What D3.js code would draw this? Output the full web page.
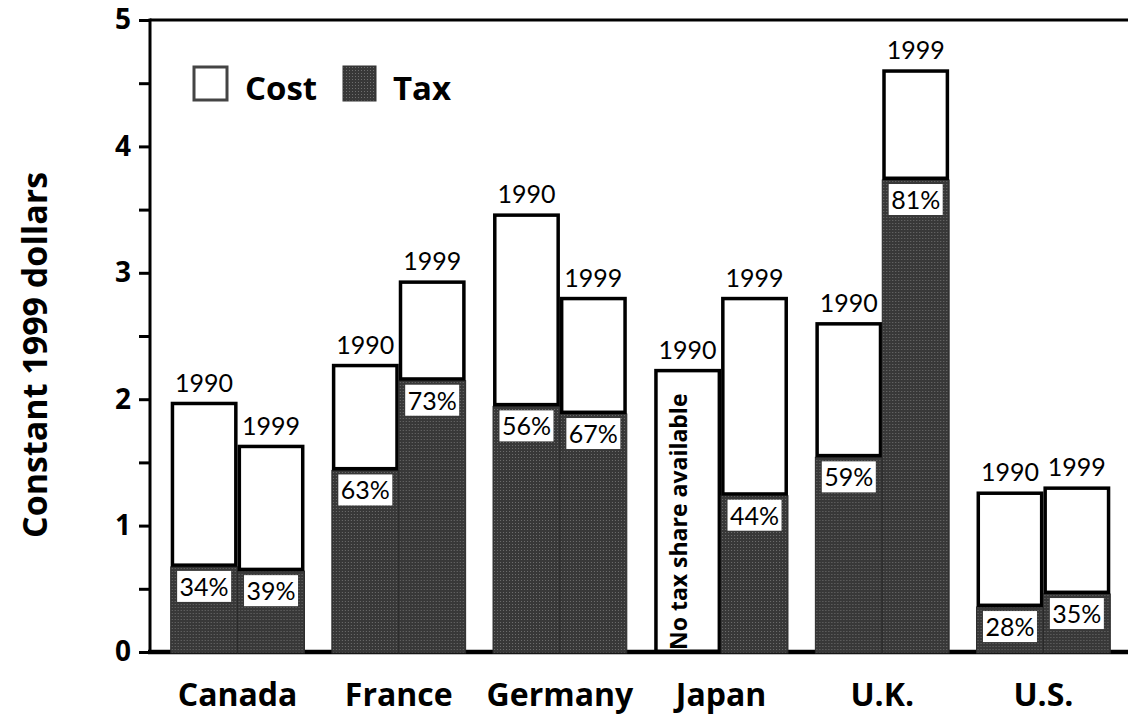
<!DOCTYPE html>
<html><head><meta charset="utf-8">
<script src="https://cdn.jsdelivr.net/npm/d3@7"></script>
<style>
html,body{margin:0;padding:0;background:#fff;}
svg{display:block;font-family:"Lato","Open Sans",sans-serif;}
.b{font-family:"Open Sans","Lato",sans-serif;font-weight:bold;}
</style></head>
<body>
<svg id="chart" width="1128" height="714"></svg>
<script>
const categories = ["Canada","France","Germany","Japan","U.K.","U.S."];
const years = ["1990","1999"];
const cost1990 = [1.98, 2.28, 3.47, 2.24, 2.61, 1.27];
const cost1999 = [1.64, 2.94, 2.81, 2.81, 4.61, 1.31];
const taxShare1990 = [34, 63, 56, null, 59, 28];
const taxShare1999 = [39, 73, 67, 44, 81, 35];
const yTicks = [0,1,2,3,4,5];
const yMinorTicks = [0.5,1.5,2.5,3.5,4.5];
const yTitle = "Constant 1999 dollars";
const noTaxText = "No tax share available";

const rows = [];
categories.forEach((c,i)=>{
  rows.push({cat:c, year:"1990", cost:cost1990[i], share:taxShare1990[i]});
  rows.push({cat:c, year:"1999", cost:cost1999[i], share:taxShare1999[i]});
});

const svg = d3.select("#chart");
const x0 = d3.scaleBand().domain(categories).range([157,1124]).paddingInner(0.17).paddingOuter(0.085);
const x1 = d3.scaleBand().domain(years).range([0,x0.bandwidth()]);
const y = d3.scaleLinear().domain([0,5]).range([652,20]);

const defs = svg.append("defs");
const pat = defs.append("pattern").attr("id","dots").attr("patternUnits","userSpaceOnUse")
  .attr("width",3).attr("height",3);
pat.append("rect").attr("width",3).attr("height",3).attr("fill","#383838");
pat.append("rect").attr("x",1).attr("y",1).attr("width",1).attr("height",1).attr("fill","#6e6e6e");

// frame top line
svg.append("line").attr("x1",150).attr("x2",1128).attr("y1",y(5)).attr("y2",y(5))
  .attr("stroke","#000").attr("stroke-width",3);
// bottom axis line
svg.append("line").attr("x1",148).attr("x2",1128).attr("y1",y(0)).attr("y2",y(0))
  .attr("stroke","#000").attr("stroke-width",4.5);

// y axis
const yAxis = d3.axisLeft(y).tickValues(yTicks).tickSize(11).tickPadding(8).tickFormat(d3.format("d"));
const gy = svg.append("g").attr("transform","translate(150,0)").call(yAxis);
gy.select(".domain").attr("stroke-width",3).attr("d",`M0,${y(5)-1.5}V${y(0)}`);
gy.selectAll(".tick line").attr("stroke-width",3);
gy.selectAll(".tick text").attr("class","b").attr("font-size",28).attr("fill","#000");
const minor = d3.axisLeft(y).tickValues(yMinorTicks).tickSize(11).tickFormat("");
const gm = svg.append("g").attr("transform","translate(150,0)").call(minor);
gm.select(".domain").remove();
gm.selectAll(".tick line").attr("stroke-width",3);

// y title
svg.append("text").attr("class","b").attr("transform",`translate(47,${y(2.35)}) rotate(-90)`)
  .attr("text-anchor","middle").attr("font-size",34).text(yTitle);

// bars
const g = svg.append("g");
const bars = g.selectAll("g.bar").data(rows).join("g").attr("class","bar")
  .attr("transform",d=>`translate(${x0(d.cat)+x1(d.year)},0)`);
const bw = x1.bandwidth();

// tax part
bars.filter(d=>d.share!=null).append("rect")
  .attr("x",0).attr("width",bw)
  .attr("y",d=>y(d.cost*d.share/100)).attr("height",d=>y(0)-y(d.cost*d.share/100)+1)
  .attr("fill","url(#dots)").attr("stroke","#2a2a2a").attr("stroke-width",1);

// cost part
bars.append("rect")
  .attr("x",1.75).attr("width",bw-3.5)
  .attr("y",d=>y(d.cost)+1.75)
  .attr("height",d=>{const b = d.share==null?0:d.cost*d.share/100; return y(b)-y(d.cost)-3.5+(d.share==null?1:0);})
  .attr("fill","#fff").attr("stroke","#000").attr("stroke-width",3.5);

// year labels
bars.append("text").attr("x",bw/2).attr("y",d=>y(d.cost)-10)
  .attr("text-anchor","middle").attr("font-size",25).text(d=>d.year);

// share labels
const sl = bars.filter(d=>d.share!=null);
sl.append("rect").attr("x",bw/2-27).attr("width",54)
  .attr("y",d=>y(d.cost*d.share/100)+4).attr("height",31).attr("fill","#fff");
sl.append("text").attr("x",bw/2).attr("y",d=>y(d.cost*d.share/100)+29)
  .attr("text-anchor","middle").attr("font-size",25).text(d=>d.share+"%");

// no tax text
bars.filter(d=>d.share==null).append("text").attr("class","b")
  .attr("transform",`translate(${bw/2-9},${y(0)-2}) rotate(-90)`)
  .attr("font-size",23).attr("dy","0.35em").text(noTaxText);

// x labels
svg.append("g").selectAll("text").data(categories).join("text").attr("class","b")
  .attr("x",d=>x0(d)+x0.bandwidth()/2).attr("y",706)
  .attr("text-anchor","middle").attr("font-size",32).text(d=>d);

// legend
const lg = svg.append("g");
lg.append("rect").attr("x",194).attr("y",67).attr("width",33).attr("height",33)
  .attr("fill","#fff").attr("stroke","#444").attr("stroke-width",3);
lg.append("text").attr("class","b").attr("x",245).attr("y",100).attr("font-size",33).text("Cost");
lg.append("rect").attr("x",343).attr("y",66).attr("width",33).attr("height",35)
  .attr("fill","url(#dots)").attr("stroke","#333").attr("stroke-width",1);
lg.append("text").attr("class","b").attr("x",393).attr("y",100).attr("font-size",33).text("Tax");
</script>
</body></html>
